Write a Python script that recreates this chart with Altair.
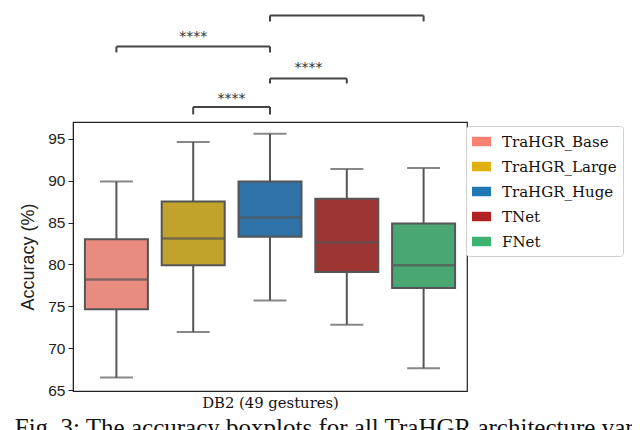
import altair as alt
import pandas as pd

models = ["TraHGR_Base", "TraHGR_Large", "TraHGR_Huge", "TNet", "FNet"]
whisker_low = [66.5, 71.95, 75.7, 72.8, 67.6]
q1 = [74.65, 79.9, 83.3, 79.1, 77.2]
median = [78.2, 83.1, 85.6, 82.65, 79.9]
q3 = [83.0, 87.5, 89.9, 87.85, 84.9]
whisker_high = [89.9, 94.6, 95.6, 91.4, 91.5]

box_colors = ["#E88B80", "#C1A22A", "#2E72A8", "#9E3535", "#4AA673"]
legend_colors = ["#FA8072", "#E0B00E", "#1F77B4", "#B22222", "#3CB371"]

sig_start = ["TraHGR_Huge", "TraHGR_Base", "TraHGR_Huge", "TraHGR_Large"]
sig_end = ["FNet", "TraHGR_Huge", "TNet", "TraHGR_Huge"]
sig_level = [109.7, 106.0, 102.2, 98.8]
sig_leg = [109.0, 105.3, 101.6, 97.9]
sig_text_y = [110.8, 107.1, 103.4, 99.8]
sig_label = ["****", "****", "****", "****"]

y_ticks = [65, 70, 75, 80, 85, 90, 95]
x_title = "DB2 (49 gestures)"
y_title = "Accuracy (%)"
caption = "Fig. 3: The accuracy boxplots for all TraHGR architecture variants"

df = pd.DataFrame({
    "model": models,
    "idx": list(range(len(models))),
    "low": whisker_low, "q1": q1, "med": median, "q3": q3, "high": whisker_high,
})
sig = pd.DataFrame({
    "s": [models.index(m) for m in sig_start],
    "e": [models.index(m) for m in sig_end],
    "level": sig_level, "leg": sig_leg, "ty": sig_text_y, "label": sig_label,
})
sig["mid"] = (sig["s"] + sig["e"]) / 2

GRAY = "#555555"
xscale = alt.Scale(domain=[-0.5, len(models) - 0.5], nice=False, zero=False)
yscale = alt.Scale(domain=[64.9, 97.0], nice=False, zero=False)
xaxis = alt.Axis(labels=False, ticks=False, domain=False, grid=False,
                 title=x_title, titleFont="DejaVu Serif", titleFontSize=14.8,
                 titleFontWeight="normal", titleColor="#111", titlePadding=4)
yaxis = alt.Axis(values=y_ticks, grid=False, tickSize=5, tickColor="#222",
                 domainColor="#222", labelFont="Liberation Sans",
                 labelFontSize=15.5, labelColor="#222", labelPadding=3,
                 title=y_title, titleFont="Liberation Sans",
                 titleFontSize=18, titleFontWeight="normal", titleColor="#222", titlePadding=10)

X = alt.X("idx:Q", scale=xscale, axis=xaxis)
base = alt.Chart(df)

whisk = base.mark_rule(color=GRAY, strokeWidth=2).encode(
    x=X, y=alt.Y("low:Q", scale=yscale, axis=yaxis), y2="high:Q")
cap_lo = base.mark_tick(color=GRAY, thickness=2, size=33, orient="horizontal").encode(
    x=X, y=alt.Y("low:Q", scale=yscale))
cap_hi = base.mark_tick(color=GRAY, thickness=2, size=33, orient="horizontal").encode(
    x=X, y=alt.Y("high:Q", scale=yscale))
box = base.mark_bar(size=63, stroke=GRAY, strokeWidth=2, orient="vertical").encode(
    x=X, y=alt.Y("q1:Q", scale=yscale), y2="q3:Q",
    color=alt.Color("model:N", scale=alt.Scale(domain=models, range=box_colors), legend=None))
med = base.mark_tick(color=GRAY, thickness=2.5, size=63, orient="horizontal").encode(
    x=X, y=alt.Y("med:Q", scale=yscale))

leg = base.mark_square(opacity=1).encode(
    x=X, y=alt.Y("med:Q", scale=yscale),
    color=alt.Color("model:N", title=None,
                    scale=alt.Scale(domain=models, range=legend_colors),
                    legend=alt.Legend(orient="none", legendX=393, legendY=4,
                                      symbolType="M-1,-0.5H1V0.5H-1Z", symbolSize=361,
                                      symbolStrokeWidth=0, symbolOpacity=1,
                                      labelFont="DejaVu Serif", labelFontSize=15,
                                      labelColor="#111", labelOffset=11, rowPadding=7,
                                      padding=6, strokeColor="#d0d0d0", cornerRadius=3,
                                      fillColor="white", labelLimit=300))
).transform_filter("false")

sbase = alt.Chart(sig)
hline = sbase.mark_rule(color="#444", strokeWidth=2).encode(
    x=alt.X("s:Q", scale=xscale), x2="e:Q", y=alt.Y("level:Q", scale=yscale))
leg_l = sbase.mark_rule(color="#444", strokeWidth=2).encode(
    x=alt.X("s:Q", scale=xscale), y=alt.Y("leg:Q", scale=yscale), y2="level:Q")
leg_r = sbase.mark_rule(color="#444", strokeWidth=2).encode(
    x=alt.X("e:Q", scale=xscale), y=alt.Y("leg:Q", scale=yscale), y2="level:Q")
txt = sbase.mark_text(font="DejaVu Sans", fontSize=14, color="#333", baseline="middle").encode(
    x=alt.X("mid:Q", scale=xscale), y=alt.Y("ty:Q", scale=yscale), text="label:N")

chart = alt.layer(whisk, cap_lo, cap_hi, box, med, leg, hline, leg_l, leg_r, txt).resolve_scale(
    color="independent"
).properties(
    width=394, height=269,
    padding={"left": 65, "top": 114, "right": 165, "bottom": 45},
    autosize=alt.AutoSizeParams(type="none"),
    title=alt.Title(caption, orient="bottom", anchor="start", dx=-5, offset=6,
                    font="Liberation Serif", fontSize=25, fontWeight="normal", color="#111"),
).configure_view(stroke="#222", strokeWidth=1.2)

chart.save("out.html", embed_options={"renderer": "svg", "actions": False})
